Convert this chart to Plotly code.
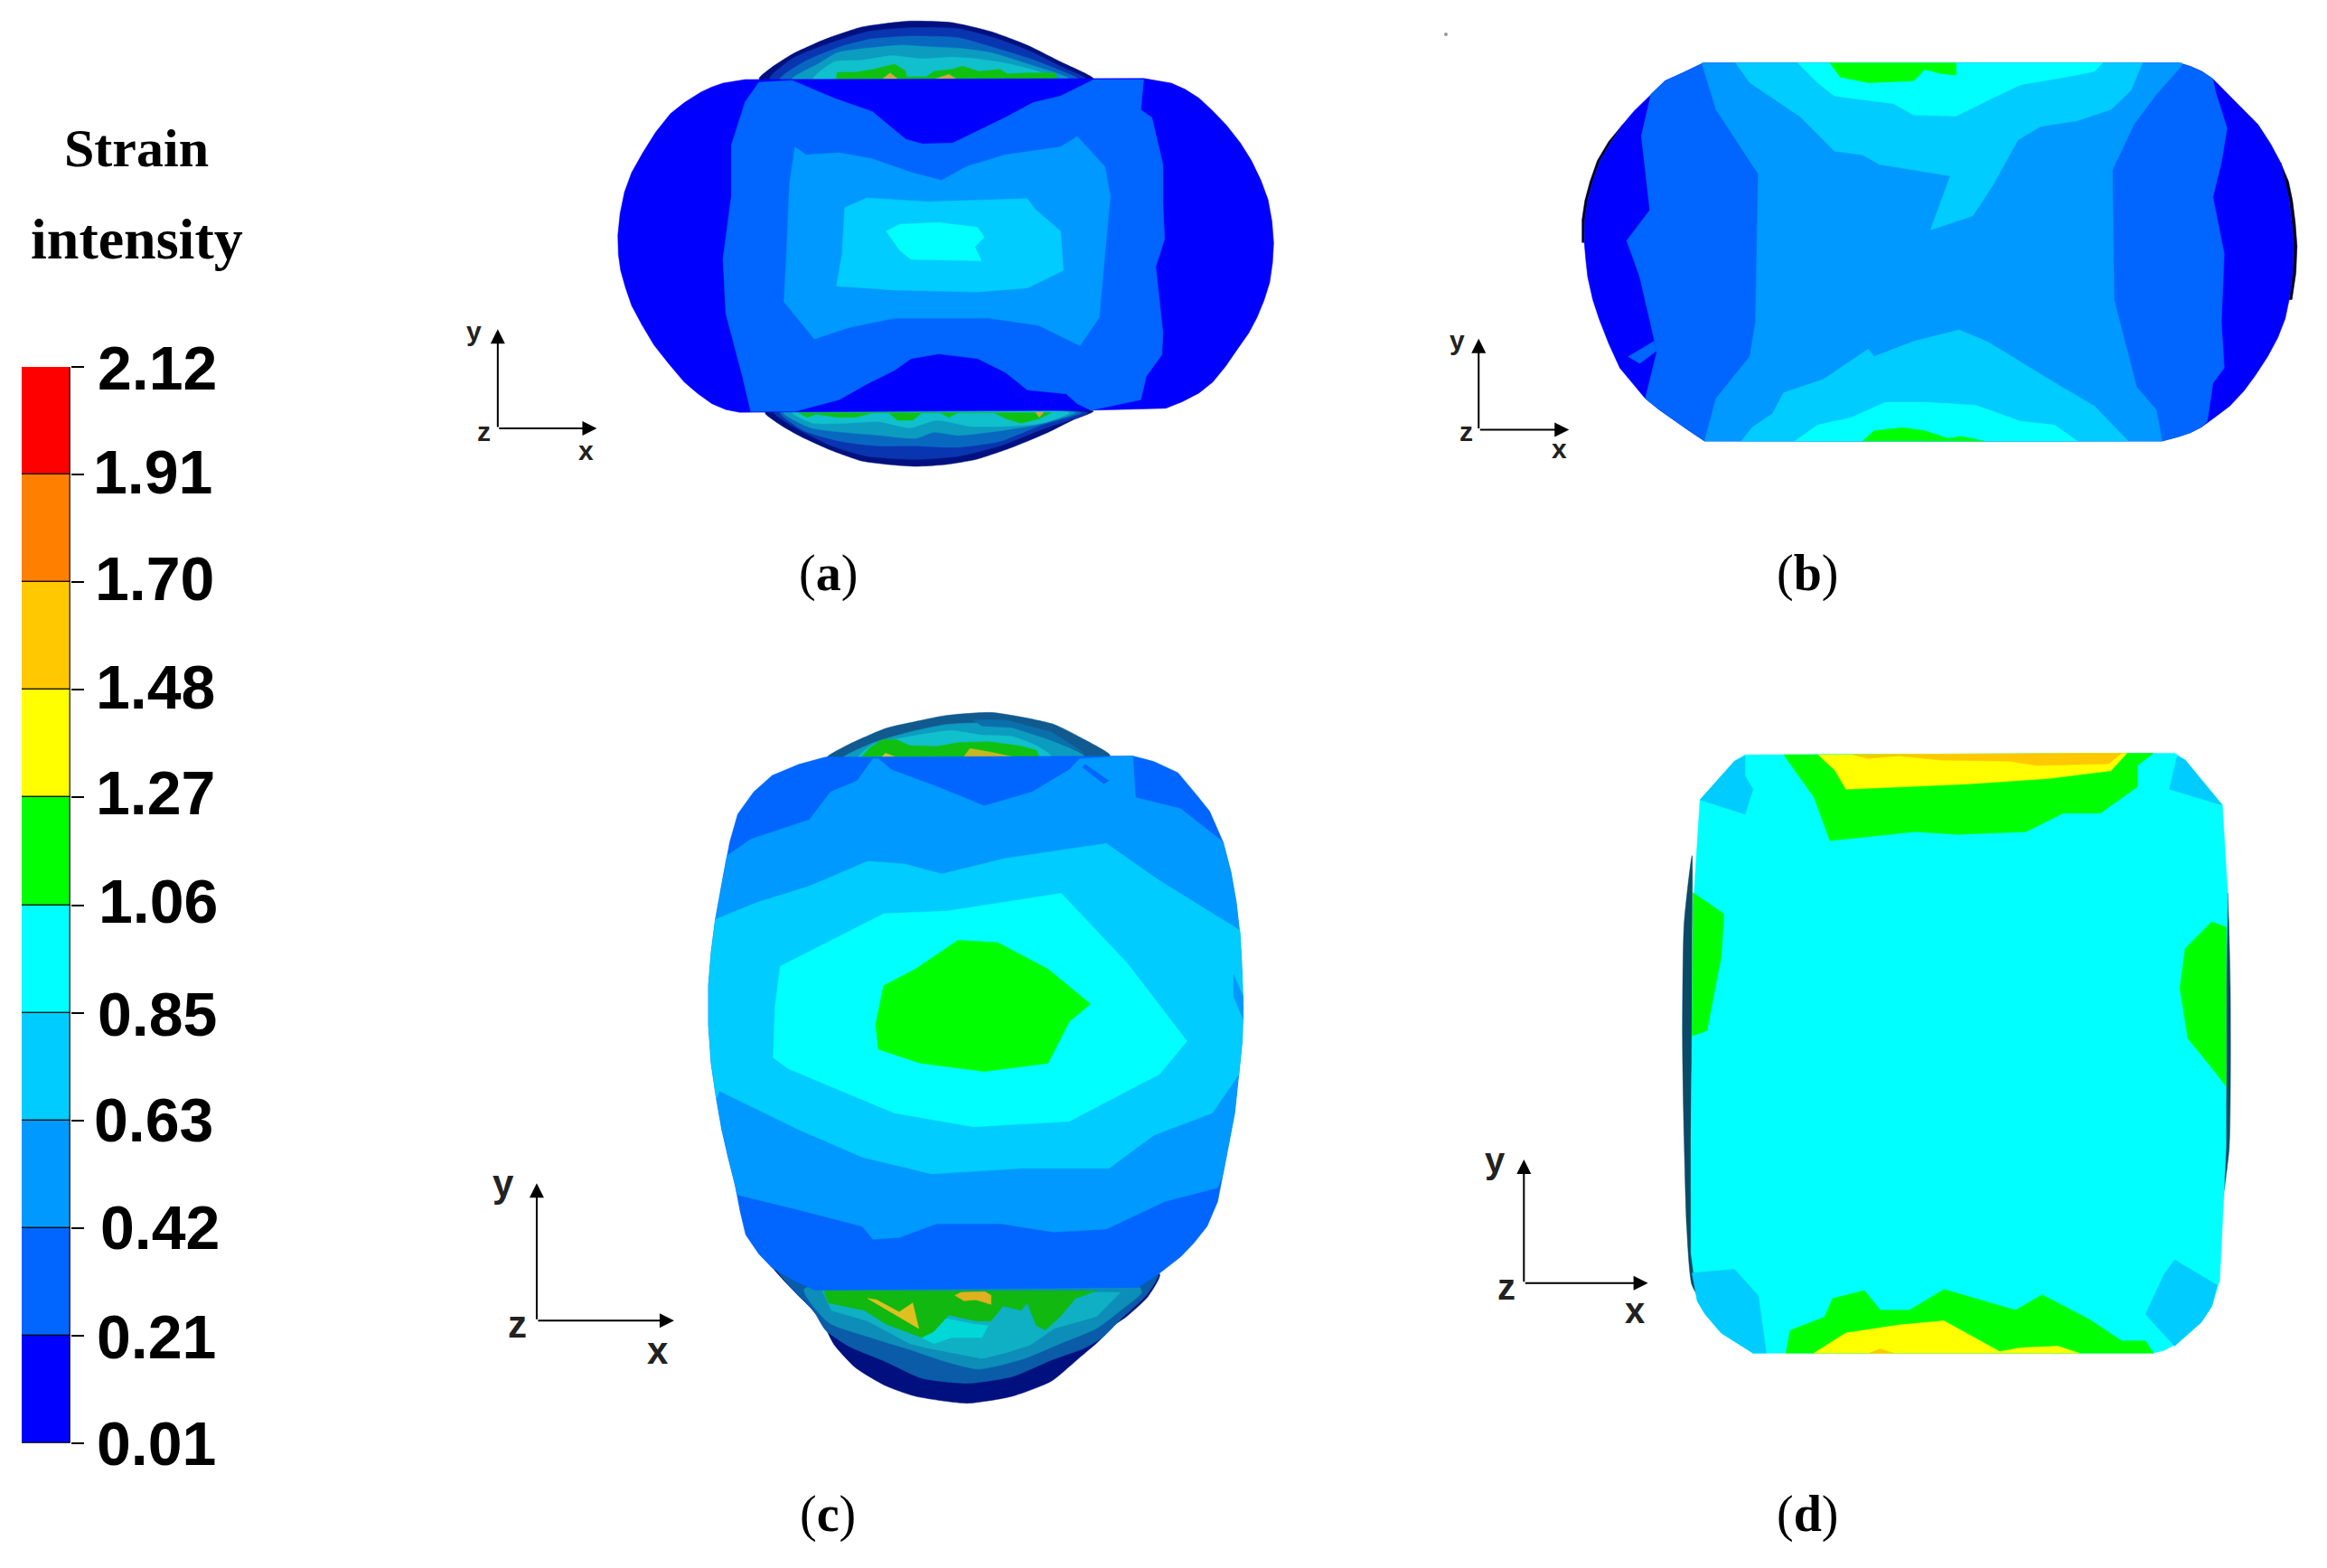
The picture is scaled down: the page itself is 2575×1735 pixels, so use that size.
import plotly.graph_objects as go

# ---- legend data ----
LEVELS = [0.01, 0.221, 0.432, 0.643, 0.854, 1.065, 1.276, 1.487, 1.698, 1.909, 2.12]
LEVEL_LABELS = ["0.01", "0.21", "0.42", "0.63", "0.85", "1.06", "1.27", "1.48", "1.70", "1.91", "2.12"]
LEVEL_COLORS = ["#0000ff", "#0066ff", "#0099ff", "#00ccff", "#00ffff", "#00ff00", "#ffff00", "#ffc800", "#ff8000", "#ff0000"]
LABEL_X = [173, 173, 177, 170, 174, 175, 172, 172, 171, 169, 174]
LABEL_Y = [1597, 1479, 1358, 1239, 1122, 997, 877, 760, 640, 522, 407]
B0, B1, B2, B3, B4, GREEN, YELLOW, AMBER = LEVEL_COLORS[:8]
NAVY, DK1, DK2, TEAL, LTEAL, DGREEN, TAN = "#00107f", "#0a35b0", "#0868c0", "#0c9cc0", "#10c0cc", "#10c010", "#d0a848"

# ---- contour bands, in each panel's own image units ----
SCALE_A = (500, 0, 1.633, 2.306)
SCALE_B = (1580, 20, 1.6, 2.376)
SCALE_C = (520, 760, 1.704, 1.633)
SCALE_D = (1620, 800, 1.704, 1.704)
SCALE_A_TOP = (820, 10, 3, 3)
SCALE_A_BOT = (820, 440, 3, 3)
SCALE_C_TOP = (880, 780, 3, 3)
SCALE_C_BOT = (880, 1400, 3, 3)

DOME_A_TOP = [
 (NAVY, [(60,232),(100,195),(170,150),(280,100),(400,60),(480,48),(560,40),(700,45),(830,75),(950,120),(1060,175),(1170,232)], True),
 (DK1, [(95,232),(170,165),(290,115),(420,75),(560,62),(720,65),(840,95),(960,140),(1060,190),(1145,232)], True),
 (DK2, [(130,232),(210,175),(330,125),(430,100),(560,90),(720,95),(830,125),(960,165),(1050,200),(1120,232)], True),
 (TEAL, [(170,232),(260,180),(320,145),(420,130),(530,120),(620,125),(720,130),(830,145),(960,185),(1040,210),(1090,232)], True),
 (LTEAL, [(240,232),(310,175),(400,170),(500,155),(600,165),(700,160),(780,165),(880,180),(980,205),(1050,232)], True),
 (DGREEN, [(315,232),(320,210),(380,210),(440,200),(510,183),(545,205),(550,225),(615,225),(640,207),(700,200),(735,190),(790,207),(860,200),(885,215),(950,212),(1040,212),(1050,232)]),
 (TAN, [(470,232),(495,212),(520,232)]),
 (TAN, [(645,232),(690,217),(715,232)]),
]
DOME_A_BOT = [
 (NAVY, [(80,50),(130,90),(200,130),(300,175),(400,210),(490,222),(580,228),(680,222),(780,205),(900,165),(1020,115),(1100,75),(1170,45)], True),
 (DK1, [(110,50),(180,100),(300,160),(420,195),(580,205),(720,195),(860,160),(1000,105),(1150,50)], True),
 (DK2, [(130,50),(210,110),(330,145),(450,160),(580,160),(720,165),(860,145),(1000,90),(1130,50)], True),
 (TEAL, [(140,50),(230,100),(340,115),(460,125),(580,135),(640,115),(720,125),(860,110),(980,90),(1110,50)], True),
 (LTEAL, [(170,50),(240,85),(340,85),(460,80),(560,100),(650,75),(760,95),(880,95),(1000,85),(1090,50)], True),
 (DGREEN, [(190,50),(220,65),(250,55),(320,65),(380,65),(440,50),(490,50),(520,75),(570,75),(600,50),(660,50),(690,65),(720,50),(840,50),(880,70),(930,85),(990,70),(1030,50)]),
 (TAN, [(978,48),(990,65),(1005,48)]),
]
DOME_C_TOP = [
 ("#105a90", [(105,175),(170,135),(300,78),(400,55),(500,35),(650,25),(750,40),(860,65),(960,115),(1045,168)], True),
 (TEAL, [(160,175),(260,125),(380,90),(500,65),(620,60),(720,75),(830,110),(960,170)], True),
 ("#0a70ac", [(590,50),(700,50),(850,90),(960,160),(860,120),(720,75),(620,70)]),
 (LTEAL, [(210,175),(260,130),(380,105),(470,90),(520,85),(620,100),(720,105),(800,135),(850,170)], True),
 (DGREEN, [(220,172),(250,140),(290,115),(335,115),(380,135),(470,138),(540,125),(640,122),(740,135),(800,150),(810,172)]),
 ("#c8c040", [(285,175),(300,160),(330,172)]),
 ("#c8b820", [(560,172),(580,145),(640,155),(720,172)]),
]
DOME_C_BOT = [
 (NAVY, [(-93,-27),(0,90),(50,140),(90,190),(130,265),(200,340),(300,400),(400,435),(570,458),(720,435),(850,385),(940,310),(1010,250),(1050,205),(1100,170),(1170,105),(1210,30),(1100,5)], True),
 ("#0a5ca8", [(-85,-27),(0,90),(60,150),(100,215),(180,270),(300,320),(420,375),(570,392),(720,370),(850,315),(960,275),(1020,240),(1080,180),(1165,100),(1205,30),(1100,5)], True),
 ("#0c8eb8", [(30,80),(110,190),(250,240),(380,280),(500,320),(610,345),(760,310),(880,260),(1000,210),(1080,150),(1150,90),(1130,60)], True),
 ("#10b0c4", [(90,85),(120,150),(240,185),(380,260),(440,275),(520,290),(620,310),(700,290),(780,265),(860,210),(1000,170),(1080,90)]),
 ("#00d8d8", [(420,240),(490,175),(590,195),(640,200),(620,240),(520,240),(460,260)]),
 ("#10b810", [(95,85),(110,125),(230,150),(300,195),(420,240),(460,220),(510,165),(600,185),(650,185),(690,135),(750,150),(770,125),(800,200),(830,215),(880,170),(930,110),(1000,85)]),
 ("#e0c020", [(240,110),(270,115),(345,155),(390,125),(410,210),(350,175)]),
 ("#e0b020", [(530,100),(550,90),(630,88),(650,100),(650,130),(600,115),(560,118)]),
]

PANEL_A = [
 (B0, [(530,203),(1250,200),(1300,212),(1325,228),(1350,250),(1375,283),(1400,320),(1425,365),(1445,410),(1462,460),(1475,510),(1482,565),(1485,620),(1483,670),(1478,720),(1468,765),(1455,810),(1440,850),(1420,890),(1398,935),(1375,975),(1350,1003),(1320,1025),(1290,1042),(1150,1047),(620,1052),(520,1052),(495,1045),(470,1030),(445,1005),(420,975),(392,928),(365,880),(344,830),(325,780),(314,735),(305,690),(301,650),(300,600),(304,545),(312,490),(325,440),(345,390),(368,338),(395,290),(420,262),(450,235),(470,222),(490,212)]),
 (B1, [(530,260),(555,210),(615,205),(690,250),(760,285),(820,355),(850,367),(905,365),(1000,300),(1050,262),(1100,245),(1160,203),(1250,203),(1245,280),(1265,300),(1285,420),(1285,520),(1288,610),(1272,680),(1285,850),(1283,905),(1255,960),(1245,1020),(1155,1047),(1130,1030),(1110,1005),(1040,995),(1000,950),(950,915),(880,903),(830,915),(800,945),(750,980),(700,1020),(620,1050),(540,1050),(525,960),(495,800),(490,660),(505,500),(505,370)]),
 (B2, [(620,375),(640,395),(700,390),(760,405),(830,440),(885,460),(930,425),(1000,395),(1100,375),(1130,348),(1180,425),(1190,500),(1180,650),(1170,810),(1135,882),(1060,830),(970,812),(800,812),(720,835),(655,865),(600,770),(605,640),(610,470)]),
 (B3, [(710,530),(750,505),(860,515),(1040,507),(1055,535),(1100,590),(1105,690),(1040,735),(950,745),(800,740),(695,730),(705,650)]),
 (B4, [(785,590),(810,572),(880,568),(950,580),(962,605),(945,630),(957,665),(830,662),(810,640)]),
]

PANEL_B = [
 ("#000020", [(345,280),(325,325),(305,375),(292,430),(283,480),(278,530),(277,590),(273,590),(273,530),(278,480),(287,430),(300,375),(320,325)]),
 ("#000020", [(1510,380),(1518,430),(1525,480),(1530,540),(1533,600),(1531,670),(1525,740),(1530,740),(1537,670),(1539,600),(1536,540),(1531,480),(1524,430)]),
 (B0, [(488,118),(1330,118),(1350,127),(1370,140),(1390,160),(1410,190),(1440,235),(1470,280),(1492,330),(1510,380),(1518,430),(1525,480),(1530,540),(1533,600),(1531,670),(1525,740),(1518,790),(1505,840),(1487,890),(1465,940),(1445,980),(1420,1020),(1395,1048),(1370,1075),(1350,1090),(1330,1100),(1300,1112),(490,1112),(460,1082),(430,1050),(410,1030),(385,1000),(360,955),(340,920),(320,855),(303,790),(292,740),(283,680),(280,640),(277,590),(278,530),(283,480),(292,430),(305,375),(325,325),(345,280),(365,245),(395,200),(420,165),(450,145)]),
 (B1, [(395,200),(420,165),(450,145),(488,118),(1330,118),(1350,127),(1370,140),(1390,160),(1395,195),(1415,290),(1405,380),(1390,470),(1410,620),(1405,800),(1410,920),(1390,960),(1380,1060),(1370,1075),(1350,1090),(1330,1100),(1300,1112),(490,1112),(460,1082),(430,1050),(410,1030),(385,1000),(405,880),(400,840),(375,680),(352,585),(393,505),(378,310)]),
 (B1, [(355,890),(400,850),(405,875),(375,908)]),
 (B2, [(485,118),(1335,118),(1335,125),(1290,200),(1250,280),(1212,400),(1215,740),(1255,970),(1290,1030),(1300,1112),(490,1112),(510,1000),(570,890),(580,800),(585,410),(510,240)]),
 (B3, [(545,118),(1265,118),(1245,190),(1210,240),(1150,270),(1085,285),(1045,320),(1000,440),(965,520),(890,557),(925,415),(800,385),(770,360),(720,350),(660,260),(570,170)]),
 (B3, [(555,1112),(575,1075),(610,1040),(630,985),(700,950),(780,870),(790,890),(860,850),(940,820),(990,850),(1100,950),(1180,1020),(1240,1112)]),
 (B4, [(655,118),(1195,118),(1180,140),(1130,155),(1050,175),(1000,210),(935,258),(860,255),(825,225),(720,205),(690,170)]),
 (GREEN, [(712,118),(935,118),(935,150),(905,145),(880,135),(860,165),(780,170),(730,155)]),
 (B4, [(650,1112),(690,1070),(750,1050),(810,1010),(880,1010),(970,1018),(1050,1060),(1110,1070),(1150,1112)]),
 (GREEN, [(770,1112),(790,1085),(840,1077),(880,1085),(920,1105),(945,1100),(985,1112)]),
]

PANEL_C = [
 (B1, [(670,127),(1250,125),(1290,135),(1335,155),(1370,195),(1395,225),(1420,280),(1435,335),(1445,390),(1452,450),(1455,500),(1458,580),(1456,640),(1450,700),(1442,770),(1430,830),(1420,880),(1410,930),(1390,975),(1365,1005),(1340,1030),(1300,1060),(1260,1085),(650,1090),(610,1072),(570,1050),(545,1025),(520,990),(510,950),(500,900),(487,850),(475,800),(465,745),(455,680),(450,610),(450,540),(455,480),(463,420),(478,340),(490,280),(505,230),(535,190),(570,160),(620,140)]),
 (B2, [(770,130),(795,150),(880,180),(970,215),(1060,190),(1130,150),(1150,130),(1250,125),(1255,200),(1340,220),(1420,280),(1435,335),(1445,390),(1452,450),(1455,500),(1458,580),(1456,640),(1450,700),(1442,770),(1430,830),(1420,880),(1410,905),(1310,930),(1200,980),(1100,985),(1000,970),(880,970),(810,995),(760,998),(740,975),(620,945),(505,918),(500,900),(487,850),(475,800),(465,745),(455,680),(450,610),(450,540),(455,480),(463,420),(478,340),(485,305),(530,275),(640,240),(680,190),(730,170),(760,130)]),
 (B1, [(1160,140),(1205,170),(1195,175),(1155,145)]),
 (B3, [(463,420),(540,390),(640,360),(750,315),(820,320),(890,338),(1010,310),(1200,283),(1300,350),(1452,440),(1455,500),(1458,580),(1456,640),(1450,700),(1400,770),(1290,810),(1205,870),(1040,870),(870,880),(740,850),(620,800),(470,730),(465,745),(455,680),(450,610),(450,540),(455,480)]),
 (B2, [(1440,520),(1458,560),(1458,600),(1440,560)]),
 (B4, [(585,505),(780,410),(900,405),(1115,373),(1240,500),(1352,640),(1300,700),(1130,785),(950,795),(800,770),(700,730),(600,690),(572,670),(575,580)]),
 (GREEN, [(920,458),(995,462),(1090,510),(1170,573),(1130,605),(1090,680),(970,695),(850,680),(770,655),(765,610),(780,540),(840,510)]),
]

PANEL_D = [
 ("#0b4a66", [(430,250),(415,380),(412,600),(415,780),(420,950),(430,1060),(455,1100),(432,1000),(428,800),(430,600),(430,400)], True),
 ("#0b4a66", [(1440,320),(1445,500),(1443,800),(1430,900),(1437,700),(1437,500)], True),
 (B4, [(530,60),(1340,57),(1360,70),(1430,155),(1440,320),(1437,500),(1437,800),(1425,1050),(1410,1100),(1390,1130),(1345,1170),(1320,1183),(1300,1188),(545,1188),(485,1150),(455,1115),(440,1090),(428,1000),(428,800),(430,600),(432,350),(445,145),(510,72)]),
 (B3, [(530,62),(510,72),(445,145),(530,172),(545,125),(530,100)]),
 (B3, [(1345,62),(1360,70),(1430,155),(1330,125)]),
 (B3, [(430,1037),(510,1030),(555,1080),(570,1188),(545,1188),(485,1150),(455,1115),(440,1090)]),
 (B3, [(1340,1012),(1420,1060),(1410,1100),(1390,1130),(1345,1170),(1340,1175),(1285,1115),(1320,1040)]),
 (GREEN, [(603,60),(1300,57),(1270,80),(1270,120),(1200,170),(1130,170),(1060,205),(930,210),(850,205),(690,222),(660,140)]),
 (YELLOW, [(668,60),(1250,57),(1220,90),(1100,105),(950,115),(720,125),(700,90)]),
 (AMBER, [(735,60),(1240,57),(1215,77),(1100,80),(1080,80),(1030,72),(900,70),(820,62),(760,67)]),
 (GREEN, [(432,320),(490,360),(485,440),(458,580),(430,590)]),
 (GREEN, [(1410,375),(1437,385),(1437,685),(1410,650),(1365,595),(1350,500),(1360,425)]),
 (GREEN, [(607,1188),(615,1145),(680,1120),(695,1085),(755,1070),(785,1107),(840,1107),(905,1068),(1040,1107),(1090,1078),(1180,1125),(1240,1165),(1285,1165),(1300,1188)]),
 (YELLOW, [(660,1188),(720,1150),(820,1135),(905,1127),(1010,1185),(1050,1178),(1120,1175),(1160,1188)]),
 (AMBER, [(765,1188),(785,1180),(810,1188)]),
]

PANELS = [
 (DOME_A_TOP, SCALE_A_TOP), (DOME_A_BOT, SCALE_A_BOT), (PANEL_A, SCALE_A), (PANEL_B, SCALE_B),
 (DOME_C_TOP, SCALE_C_TOP), (DOME_C_BOT, SCALE_C_BOT), (PANEL_C, SCALE_C), (PANEL_D, SCALE_D),
]

# origin, y-arrow end, x-arrow end, y label, z label, x label, font size
TRIADS = [
 (SCALE_A, (83,1093), (83,840), (262,1093), (40,845), (58,1100), (242,1150), 30),
 (SCALE_B, (90,1082), (90,843), (250,1082), (52,847), (68,1087), (233,1133), 30),
 (SCALE_C, (126,1145), (126,897), (385,1145), (63,898), (90,1152), (355,1200), 42),
 (SCALE_D, (113,1056), (113,823), (347,1056), (58,824), (80,1063), (322,1108), 40),
]
CAPTIONS = [("a", 916, 634), ("b", 2000, 634), ("c", 916, 1675), ("d", 2000, 1675)]
LEGEND_TITLE = [("Strain", 151, 164, 60), ("intensity", 151, 264, 64)]


def tf(scale, pt):
    ox, oy, sx, sy = scale
    return ox + pt[0] / sx, oy + pt[1] / sy


fig = go.Figure()

for polys, scale in PANELS:
    for band in polys:
        color, pts = band[0], band[1]
        smooth = len(band) > 2
        mapped = [tf(scale, p) for p in pts]
        xs = [p[0] for p in mapped] + [mapped[0][0]]
        ys = [p[1] for p in mapped] + [mapped[0][1]]
        line = dict(color=color, width=0.5)
        if smooth:
            line.update(shape="spline", smoothing=0.6)
        fig.add_trace(go.Scatter(x=xs, y=ys, mode="lines", fill="toself", fillcolor=color,
                                 line=line, hoverinfo="skip", showlegend=False))

# speck near panel (b)
fig.add_trace(go.Scatter(x=[1600], y=[38], mode="markers", marker=dict(size=4, color="#999999"),
                         hoverinfo="skip", showlegend=False))

# colour legend: a stacked bar on its own linear axis
for i, col in enumerate(LEVEL_COLORS):
    fig.add_trace(go.Bar(x=[0], y=[LEVELS[i + 1] - LEVELS[i]], base=[LEVELS[i]], width=[1],
                         marker=dict(color=col, line=dict(color="rgba(0,0,0,0.75)", width=1.5)),
                         xaxis="x2", yaxis="y2", showlegend=False, hoverinfo="skip"))

annotations = []
for lab, lx, ly in zip(LEVEL_LABELS, LABEL_X, LABEL_Y):
    annotations.append(dict(x=lx, y=ly, xref="x", yref="y", text=f"<b>{lab}</b>", showarrow=False,
                            font=dict(family="Liberation Sans", size=68, color="#000000")))
for txt, tx, ty, size in LEGEND_TITLE:
    annotations.append(dict(x=tx, y=ty, xref="x", yref="y", text=f"<b>{txt}</b>", showarrow=False,
                            font=dict(family="Liberation Serif", size=size, color="#000000")))
for letter, cx, cy in CAPTIONS:
    annotations.append(dict(x=cx, y=cy, xref="x", yref="y", text=f"(<b>{letter}</b>)", showarrow=False,
                            font=dict(family="Liberation Serif", size=56, color="#000000")))
for scale, o, ye, xe, yl, zl, xl, fs in TRIADS:
    ox, oy = tf(scale, o)
    for end in (ye, xe):
        ex, ey = tf(scale, end)
        annotations.append(dict(x=ex, y=ey, ax=ox, ay=oy, xref="x", yref="y", axref="x", ayref="y", text="",
                                showarrow=True, arrowhead=2, arrowsize=1.6, arrowwidth=2, arrowcolor="#000000"))
    for t, p in (("y", yl), ("z", zl), ("x", xl)):
        px, py = tf(scale, p)
        annotations.append(dict(x=px, y=py, xref="x", yref="y", text=f"<b>{t}</b>", showarrow=False,
                                font=dict(family="Liberation Sans", size=fs, color="#222222")))

W, H = 2575, 1735
fig.update_layout(
    width=W, height=H, margin=dict(l=0, r=0, t=0, b=0),
    paper_bgcolor="white", plot_bgcolor="rgba(0,0,0,0)", barmode="overlay", bargap=0,
    xaxis=dict(range=[0, W], visible=False, domain=[0, 1], fixedrange=True),
    yaxis=dict(range=[H, 0], visible=False, domain=[0, 1], fixedrange=True),
    xaxis2=dict(domain=[24 / W, 78 / W], range=[-0.5, 0.5], visible=False, anchor="y2", fixedrange=True),
    yaxis2=dict(domain=[1 - 1597 / H, 1 - 406 / H], range=[LEVELS[0], LEVELS[-1]], anchor="x2", side="right",
                tickvals=LEVELS, showticklabels=False, ticks="outside", ticklen=14, tickwidth=1.5,
                tickcolor="#000000", showgrid=False, zeroline=False, showline=False, fixedrange=True),
    annotations=annotations,
)
fig.write_html("out.html", config={"displayModeBar": False},
               post_script="document.body.style.margin='0';document.body.style.overflow='hidden';")
